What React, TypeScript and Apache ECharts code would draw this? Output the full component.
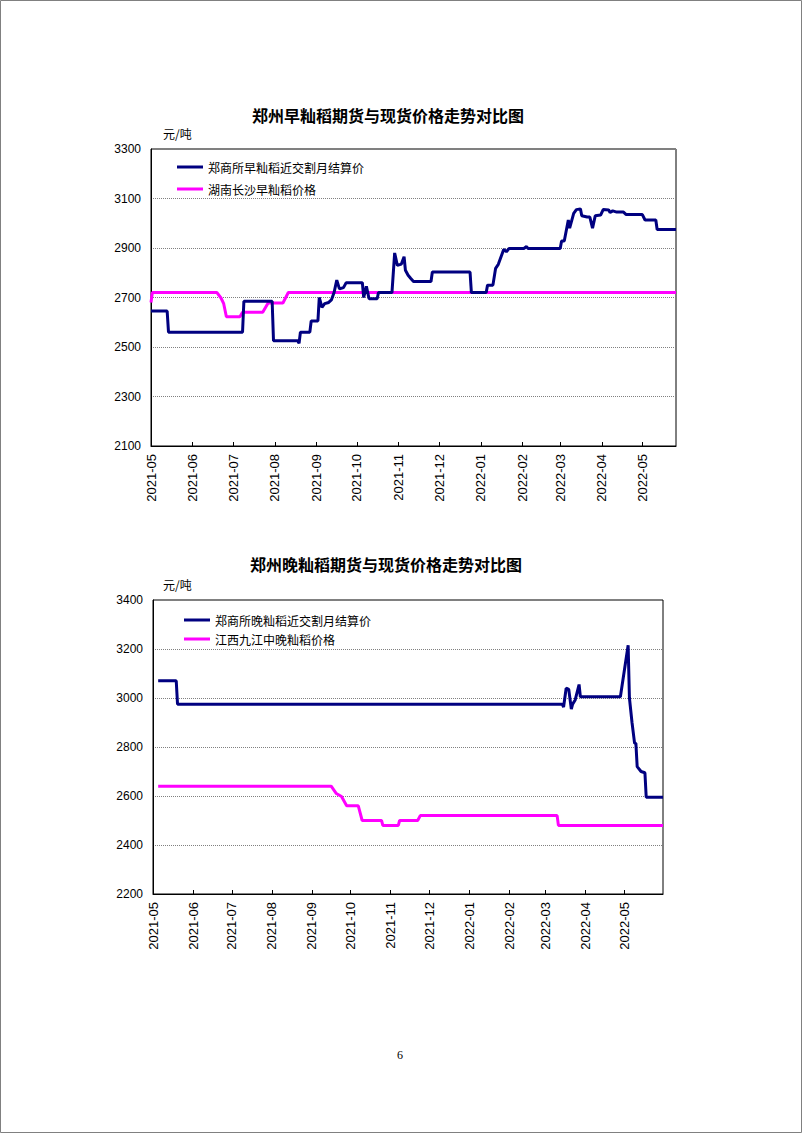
import React, { useEffect, useRef } from 'react';
import * as echarts from 'echarts';

// ---------- data ----------
const topTitle = '郑州早籼稻期货与现货价格走势对比图';
const bottomTitle = '郑州晚籼稻期货与现货价格走势对比图';
const unitLabel = '元/吨';

const earlyFuturesName = '郑商所早籼稻近交割月结算价';
const earlySpotName = '湖南长沙早籼稻价格';
const lateFuturesName = '郑商所晚籼稻近交割月结算价';
const lateSpotName = '江西九江中晚籼稻价格';

const earlyFuturesDates = [
  '2021-05-01', '2021-05-13', '2021-05-14', '2021-07-08', '2021-07-09', '2021-07-30', '2021-07-31',
  '2021-08-18', '2021-08-19', '2021-08-20', '2021-08-27', '2021-08-28', '2021-09-02', '2021-09-03',
  '2021-09-05', '2021-09-07', '2021-09-10', '2021-09-12', '2021-09-14', '2021-09-16', '2021-09-18',
  '2021-09-21', '2021-09-23', '2021-10-05', '2021-10-06', '2021-10-08', '2021-10-10', '2021-10-16',
  '2021-10-17', '2021-10-27', '2021-10-29', '2021-10-31', '2021-11-03', '2021-11-05', '2021-11-06',
  '2021-11-08', '2021-11-10', '2021-11-12', '2021-11-25', '2021-11-26', '2021-12-24', '2021-12-25',
  '2022-01-05', '2022-01-06', '2022-01-10', '2022-01-12', '2022-01-14', '2022-01-17', '2022-01-18',
  '2022-01-20', '2022-01-22', '2022-02-02', '2022-02-04', '2022-02-05', '2022-03-01', '2022-03-02',
  '2022-03-04', '2022-03-07', '2022-03-08', '2022-03-11', '2022-03-13', '2022-03-16', '2022-03-17',
  '2022-03-21', '2022-03-23', '2022-03-25', '2022-03-27', '2022-03-31', '2022-04-02', '2022-04-06',
  '2022-04-07', '2022-04-09', '2022-04-12', '2022-04-17', '2022-04-19', '2022-05-01', '2022-05-03',
  '2022-05-11', '2022-05-12', '2022-05-26',
];
const earlyFuturesValues = [
  2645, 2645, 2560, 2560, 2685, 2685, 2525,
  2525, 2515, 2560, 2560, 2605, 2605, 2700,
  2660, 2675, 2680, 2690, 2720, 2770, 2735,
  2740, 2760, 2760, 2700, 2745, 2695, 2695,
  2720, 2720, 2880, 2830, 2835, 2865, 2810,
  2790, 2777, 2765, 2765, 2803, 2803, 2720,
  2720, 2750, 2750, 2818, 2834, 2879, 2894,
  2885, 2898, 2898, 2906, 2898, 2898, 2928,
  2928, 3013, 2980, 3040, 3055, 3058, 3030,
  3025, 3025, 2980, 3030, 3033, 3056, 3054,
  3043, 3050, 3045, 3045, 3035, 3035, 3013,
  3013, 2975, 2975,
];

const earlySpotDates = [
  '2021-05-01', '2021-05-02', '2021-06-19', '2021-06-22', '2021-06-24', '2021-06-26', '2021-07-06',
  '2021-07-08', '2021-07-23', '2021-07-27', '2021-08-07', '2021-08-11', '2022-05-26',
];
const earlySpotValues = [2680, 2720, 2720, 2698, 2675, 2622, 2622, 2640, 2640, 2678, 2678, 2720, 2720];

const lateFuturesDates = [
  '2021-05-05', '2021-05-19', '2021-05-20', '2022-03-14', '2022-03-15', '2022-03-17', '2022-03-19',
  '2022-03-21', '2022-03-22', '2022-03-24', '2022-03-27', '2022-03-28', '2022-04-28', '2022-05-04',
  '2022-05-05', '2022-05-07', '2022-05-09', '2022-05-10', '2022-05-11', '2022-05-14', '2022-05-17',
  '2022-05-18', '2022-05-31',
];
const lateFuturesValues = [
  3070, 3070, 2975, 2975, 2963, 3040, 3035,
  2955, 2975, 2992, 3055, 3005, 3005, 3215,
  3000, 2900, 2815, 2815, 2720, 2700, 2695,
  2595, 2595,
];

const lateSpotDates = [
  '2021-05-05', '2021-09-16', '2021-09-20', '2021-09-24', '2021-09-28', '2021-10-07', '2021-10-10',
  '2021-10-25', '2021-10-26', '2021-11-07', '2021-11-08', '2021-11-22', '2021-11-24', '2022-03-10',
  '2022-03-11', '2022-05-31',
];
const lateSpotValues = [2640, 2640, 2610, 2598, 2560, 2560, 2500, 2500, 2480, 2480, 2500, 2500, 2520, 2520, 2480, 2480];

const topAxisStart = '2021-05-01';
const topAxisEnd = '2022-05-26';
const bottomAxisStart = '2021-05-01';
const bottomAxisEnd = '2022-05-31';
const topYMin = 2100;
const topYMax = 3300;
const bottomYMin = 2200;
const bottomYMax = 3400;
const yStep = 200;
const pageNumber = '6';

// ---------- helpers ----------
const DAY = 24 * 3600 * 1000;
const toTs = (s: string) => {
  const [y, m, d] = s.split('-').map(Number);
  return new Date(y, m - 1, d).getTime();
};
const pairs = (dates: string[], values: number[]) => dates.map((d, i) => [toTs(d), values[i]]);
const pad2 = (n: number) => (n < 10 ? '0' + n : '' + n);

const NAVY = '#000080';
const MAGENTA = '#FF00FF';
const LABEL_FONT = 'Arial, "Liberation Sans", sans-serif';
const CJK_FONT = '"Noto Sans CJK SC", serif';

const makeXAxis = (gridIndex: number, start: string, end: string) => ({
  type: 'time',
  gridIndex,
  min: toTs(start),
  max: toTs(end),
  splitNumber: 13,
  minInterval: 28 * DAY,
  maxInterval: 31 * DAY,
  axisLine: { show: true, lineStyle: { color: '#000', width: 1 } },
  axisTick: { show: true, inside: true, length: 4, lineStyle: { color: '#000' } },
  axisLabel: {
    rotate: 90,
    fontSize: 13,
    fontFamily: LABEL_FONT,
    color: '#000',
    margin: 8,
    hideOverlap: false,
    formatter: (v: number) => {
      const d = new Date(v);
      if (d.getDate() !== 1) return '';
      return d.getFullYear() + '-' + pad2(d.getMonth() + 1);
    },
  },
  splitLine: { show: false },
});

const makeYAxis = (gridIndex: number, min: number, max: number) => ({
  type: 'value',
  gridIndex,
  min,
  max,
  interval: yStep,
  axisLine: { show: true, lineStyle: { color: '#000', width: 1 } },
  axisTick: { show: false },
  axisLabel: {
    fontSize: 12,
    fontFamily: LABEL_FONT,
    color: '#000',
    margin: 10,
    formatter: (v: number) => String(v),
  },
  splitLine: { show: true, lineStyle: { color: '#808080', type: 'dotted', width: 1 } },
});

const lineSeries = (name: string, color: string, idx: number, data: number[][]) => ({
  name,
  type: 'line',
  xAxisIndex: idx,
  yAxisIndex: idx,
  data,
  showSymbol: false,
  symbol: 'none',
  lineStyle: { color, width: 3 },
  itemStyle: { color },
  silent: true,
});

export default function App() {
  const ref = useRef<HTMLDivElement>(null);
  useEffect(() => {
    const chart = echarts.init(ref.current!, null, { renderer: 'svg' });
    const option = {
      animation: false,
      backgroundColor: '#fff',
      grid: [
        { left: 151, top: 149, width: 525, height: 297, show: true, borderColor: '#000', borderWidth: 1 },
        { left: 153, top: 600, width: 510, height: 294, show: true, borderColor: '#000', borderWidth: 1 },
      ],
      xAxis: [makeXAxis(0, topAxisStart, topAxisEnd), makeXAxis(1, bottomAxisStart, bottomAxisEnd)],
      yAxis: [makeYAxis(0, topYMin, topYMax), makeYAxis(1, bottomYMin, bottomYMax)],
      legend: [
        {
          orient: 'vertical',
          left: 172,
          top: 155,
          itemWidth: 26,
          itemHeight: 3,
          icon: 'rect',
          itemGap: 8,
          selectedMode: false,
          textStyle: { fontSize: 12, color: '#000', fontFamily: CJK_FONT, lineHeight: 14 },
          data: [earlyFuturesName, earlySpotName],
        },
        {
          orient: 'vertical',
          left: 179,
          top: 608,
          itemWidth: 26,
          itemHeight: 3,
          icon: 'rect',
          itemGap: 5,
          selectedMode: false,
          textStyle: { fontSize: 12, color: '#000', fontFamily: CJK_FONT, lineHeight: 14 },
          data: [lateFuturesName, lateSpotName],
        },
      ],
      series: [
        lineSeries(earlySpotName, MAGENTA, 0, pairs(earlySpotDates, earlySpotValues)),
        lineSeries(earlyFuturesName, NAVY, 0, pairs(earlyFuturesDates, earlyFuturesValues)),
        lineSeries(lateSpotName, MAGENTA, 1, pairs(lateSpotDates, lateSpotValues)),
        lineSeries(lateFuturesName, NAVY, 1, pairs(lateFuturesDates, lateFuturesValues)),
      ],
      graphic: [
        {
          type: 'rect',
          shape: { x: 0.5, y: 0.5, width: 801, height: 1132 },
          style: { fill: 'none', stroke: '#808080', lineWidth: 1 },
          silent: true,
        },
        {
          type: 'text',
          x: 388,
          y: 115,
          style: { text: topTitle, fill: '#000', font: 'bold 16px ' + CJK_FONT, align: 'center', verticalAlign: 'middle' },
        },
        {
          type: 'text',
          x: 163,
          y: 133,
          style: { text: unitLabel, fill: '#000', font: '12px ' + CJK_FONT, align: 'left', verticalAlign: 'middle' },
        },
        {
          type: 'text',
          x: 386,
          y: 564,
          style: { text: bottomTitle, fill: '#000', font: 'bold 16px ' + CJK_FONT, align: 'center', verticalAlign: 'middle' },
        },
        {
          type: 'text',
          x: 163,
          y: 584,
          style: { text: unitLabel, fill: '#000', font: '12px ' + CJK_FONT, align: 'left', verticalAlign: 'middle' },
        },
        {
          type: 'text',
          x: 400,
          y: 1055,
          style: { text: pageNumber, fill: '#000', font: '12px "Liberation Serif", serif', align: 'center', verticalAlign: 'middle' },
        },
      ],
    };
    chart.setOption(option as any);
    return () => chart.dispose();
  }, []);
  return (
    <div
      ref={ref}
      style={{ position: 'fixed', left: 0, top: 0, width: 802, height: 1133, background: '#fff' }}
    />
  );
}
